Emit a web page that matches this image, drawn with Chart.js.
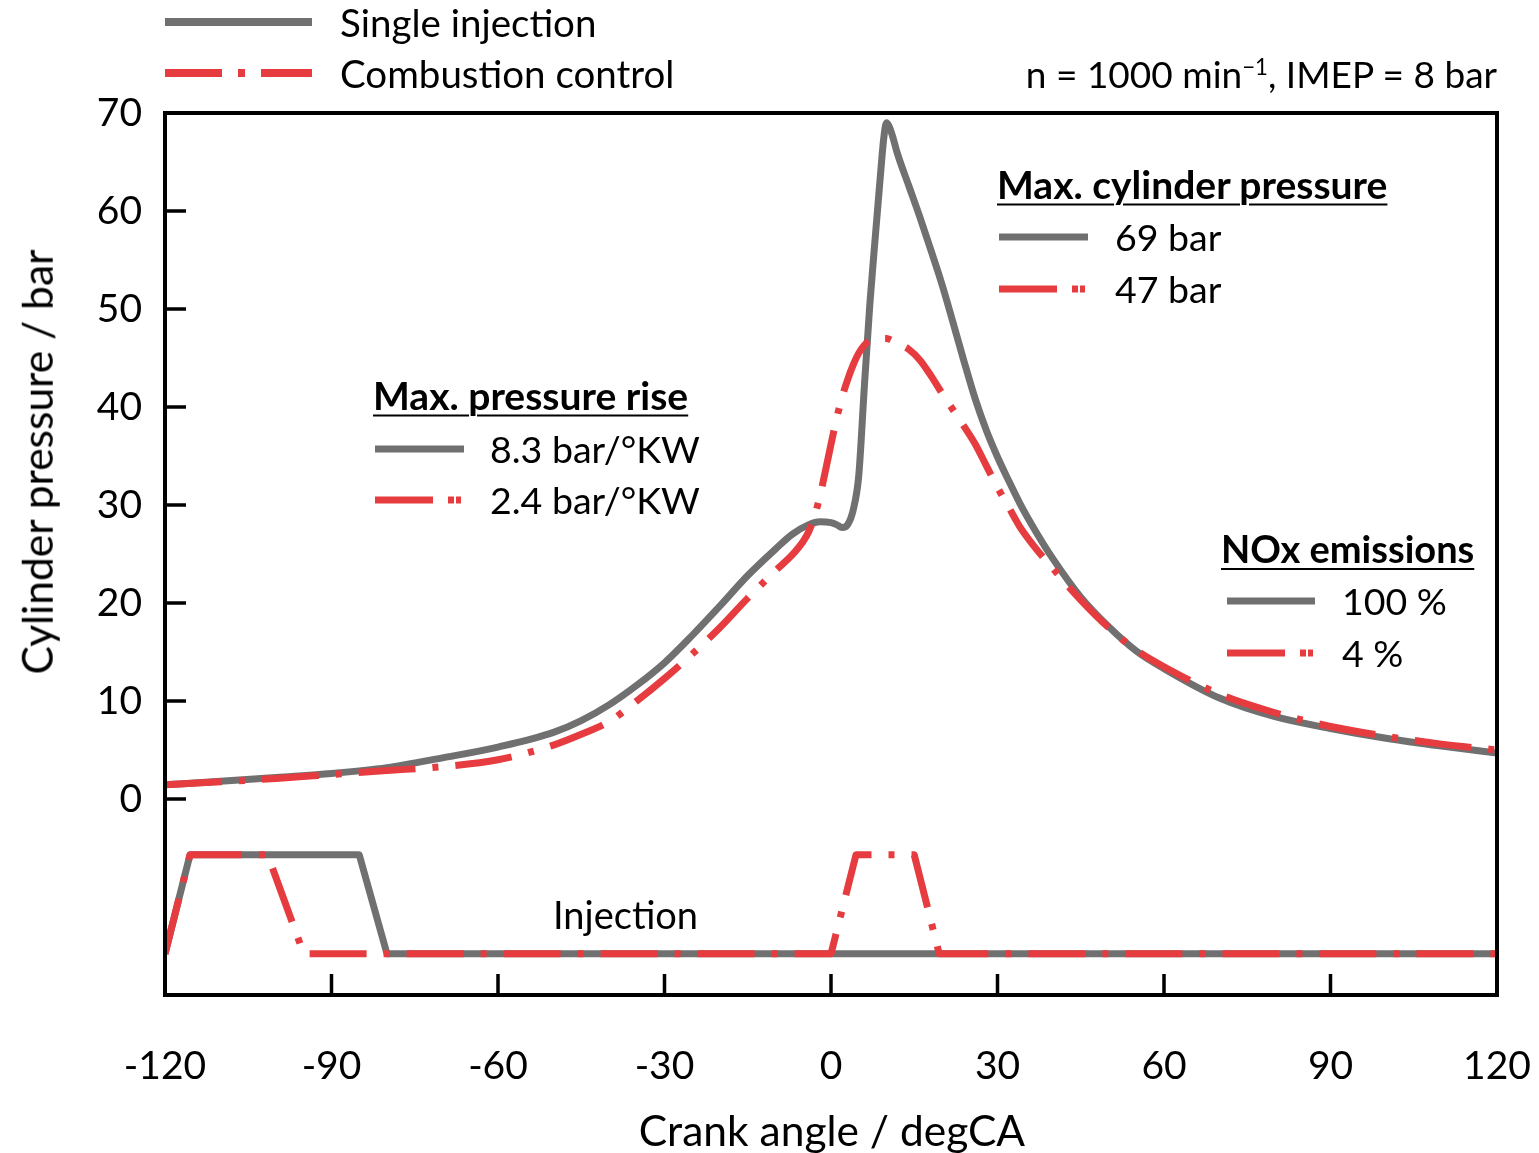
<!DOCTYPE html>
<html>
<head>
<meta charset="utf-8">
<script src="https://cdn.jsdelivr.net/npm/chart.js@4/dist/chart.umd.min.js"></script>
<style>
  html, body { margin: 0; padding: 0; background: #fff; }
  #wrap { position: relative; width: 1539px; height: 1153px; overflow: hidden; font-family: Lato, "Noto Sans", sans-serif; color: #000; }
  #chart { position: absolute; left: 0; top: 0; }
  .t { position: absolute; white-space: nowrap; line-height: 1; transform: translateY(-50%); font-size: 38px; }
  .v { font-size: 37.5px; }
  .h { font-weight: bold; text-decoration: underline; text-decoration-thickness: 2px; text-underline-offset: 5px; font-size: 39px; }
  .ax { font-size: 42.5px; }
  sup { font-size: 0.6em; vertical-align: 0; position: relative; top: -0.6em; }
</style>
</head>
<body>
<div id="wrap">
  <canvas id="chart" width="1539" height="1153"></canvas>

  <div class="t" style="left:340px; top:22px; font-size:38.5px;">Single injection</div>
  <div class="t" style="left:340px; top:73px; font-size:38.5px;">Combustion control</div>
  <div class="t" style="right:42px; top:73px; font-size:37px;">n = 1000 min<sup>−1</sup>, IMEP = 8 bar</div>

  <div class="t h" style="left:997px; top:184px;">Max. cylinder pressure</div>
  <div class="t v" style="left:1115px; top:237px;">69 bar</div>
  <div class="t v" style="left:1115px; top:289px;">47 bar</div>

  <div class="t h" style="left:373px; top:395px;">Max. pressure rise</div>
  <div class="t v" style="left:490px; top:449px;">8.3 bar/°KW</div>
  <div class="t v" style="left:490px; top:500px;">2.4 bar/°KW</div>

  <div class="t h" style="left:1221px; top:548px; font-size:38px;">NOx emissions</div>
  <div class="t v" style="left:1342px; top:601px;">100 %</div>
  <div class="t v" style="left:1342px; top:653px;">4 %</div>

  <div class="t" style="left:553px; top:914px;">Injection</div>

  <div class="t ax" style="left:37px; top:462px; transform: translate(-50%,-50%) rotate(-90deg);">Cylinder pressure / bar</div>
  <div class="t ax" style="left:832px; top:1130px; transform: translate(-50%,-50%);">Crank angle / degCA</div>
</div>

<script>
// Cylinder pressure, single injection (crank angle in degCA, pressure in bar)
const crankSingle = [-120,-110,-100,-90,-80,-70,-60,-50,-45,-40,-35,-30,-25,-20,-15,-10,-7,-4,-2,0,1,2,3,4,5,6,7,8,9,9.5,10,10.5,11,12,14,16,18,20,22,24,26,28,30,32,34,37,40,45,50,55,60,70,80,90,100,110,120];
const pressureSingle = [1.45,1.8,2.2,2.6,3.2,4.2,5.3,6.8,8.0,9.6,11.6,13.9,16.7,19.7,22.8,25.5,27.0,28.0,28.3,28.2,28.0,27.7,28.0,29.5,33,42,50.5,57.5,64.3,67.4,69,68.6,67.8,65.8,62.6,59.4,56,52.5,48.6,44.6,40.8,37.6,34.9,32.5,30.2,27.2,24.5,20.6,17.6,15.1,13.3,10.3,8.4,7.2,6.2,5.4,4.7];

// Cylinder pressure with combustion control
const crankControl = [-120,-110,-100,-90,-80,-70,-60,-50,-45,-40,-35,-30,-25,-20,-15,-10,-7,-5,-4,-3,-2,-1,0,1,2,3,4,5,6,7,8,9,10,11,12,14,16,18,20,22,24,26,28,30,32,34,37,40,45,50,55,60,70,80,90,100,110,120];
const pressureControl = [1.45,1.75,2.1,2.5,2.9,3.3,4.0,5.5,6.6,7.9,10.0,12.3,14.8,17.5,20.5,23.3,24.9,26.3,27.3,28.8,30.9,33.5,36.2,38.8,41,42.8,44.3,45.5,46.3,46.8,46.95,47,47,46.8,46.5,45.9,44.8,43.2,41.4,39.7,38,36.2,34,31.8,29.8,27.8,25.5,23.5,20.3,17.5,15.2,13.5,10.7,8.8,7.4,6.4,5.6,5.0];

// Injection signal traces (drawn on the pressure axis below zero)
const injCrankSingle = [-120,-115.5,-85,-80,120];
const injLevelSingle = [-15.8,-5.7,-5.7,-15.8,-15.8];
const injCrankControl = [-120,-115.5,-101.5,-95,0,4.5,15,19.5,120];
const injLevelControl = [-15.8,-5.7,-5.7,-15.8,-15.8,-5.7,-5.7,-15.8,-15.8];

// Axis ticks
const xTickValues = [-120,-90,-60,-30,0,30,60,90,120];
const yTickValues = [0,10,20,30,40,50,60,70];

const GREY = '#707070';
const RED = '#e63c3f';
const DASH = [57,17,6,17];
const FONT = 'Lato, "Noto Sans", sans-serif';

const pts = (xs, ys) => xs.map((x, i) => ({ x, y: ys[i] }));

// Frame, inward tick marks and legend keys
const framePlugin = {
  id: 'frame',
  afterDraw(chart) {
    const { ctx, chartArea: a, scales } = chart;
    ctx.save();
    ctx.strokeStyle = '#000';
    ctx.lineWidth = 4;
    ctx.lineCap = 'butt';
    ctx.strokeRect(a.left, a.top, a.right - a.left, a.bottom - a.top);
    ctx.lineWidth = 3.5;
    ctx.beginPath();
    yTickValues.forEach(v => {
      const y = scales.y.getPixelForValue(v);
      ctx.moveTo(a.left, y); ctx.lineTo(a.left + 21, y);
    });
    xTickValues.forEach(v => {
      const x = scales.x.getPixelForValue(v);
      ctx.moveTo(x, a.bottom); ctx.lineTo(x, a.bottom - 21);
    });
    ctx.stroke();

    const key = (x1, x2, y, color, dash, w) => {
      ctx.beginPath();
      ctx.strokeStyle = color;
      ctx.lineWidth = w;
      ctx.setLineDash(dash);
      ctx.moveTo(x1, y); ctx.lineTo(x2, y);
      ctx.stroke();
      ctx.setLineDash([]);
    };
    key(165, 312, 22, GREY, [], 8);
    key(165, 312, 73, RED, [57,16,7,16], 8);
    key(999, 1088, 237, GREY, [], 7);
    key(999, 1088, 289, RED, [58,15,6,2,5,20], 7);
    key(375, 464, 449, GREY, [], 7);
    key(375, 464, 500, RED, [58,15,6,2,5,20], 7);
    key(1227, 1315, 601, GREY, [], 7);
    key(1227, 1315, 653, RED, [58,15,6,2,5,20], 7);
    ctx.restore();
  }
};

new Chart(document.getElementById('chart'), {
  type: 'line',
  data: {
    datasets: [
      { label: 'Combustion control', data: pts(crankControl, pressureControl), borderColor: RED, borderWidth: 7, borderDash: DASH, cubicInterpolationMode: 'monotone', order: 0 },
      { label: 'Combustion control injection', data: pts(injCrankControl, injLevelControl), borderColor: RED, borderWidth: 7, borderDash: DASH, tension: 0, order: 0 },
      { label: 'Single injection', data: pts(crankSingle, pressureSingle), borderColor: GREY, borderWidth: 7, cubicInterpolationMode: 'monotone', order: 1 },
      { label: 'Single injection injection', data: pts(injCrankSingle, injLevelSingle), borderColor: GREY, borderWidth: 7, tension: 0, order: 1 }
    ]
  },
  options: {
    responsive: false,
    animation: false,
    layout: { padding: { top: 113, right: 42, left: 0, bottom: 0 } },
    elements: { point: { radius: 0 }, line: { borderJoinStyle: 'round', fill: false } },
    plugins: { legend: { display: false }, tooltip: { enabled: false } },
    scales: {
      x: {
        type: 'linear', min: -120, max: 120,
        grid: { display: false, drawTicks: false },
        border: { display: false },
        afterBuildTicks: s => { s.ticks = xTickValues.map(v => ({ value: v })); },
        afterFit: s => { s.height = 158; },
        // tall line box places the labels well below the axis without widening the side padding
        ticks: { color: '#000', font: { family: FONT, size: 39, lineHeight: 3.64 }, padding: 0, maxRotation: 0, autoSkip: false, callback: v => String(v) }
      },
      y: {
        type: 'linear', min: -20, max: 70,
        grid: { display: false, drawTicks: false },
        border: { display: false },
        afterBuildTicks: s => { s.ticks = yTickValues.map(v => ({ value: v })); },
        afterFit: s => { s.width = 165; },
        ticks: { color: '#000', font: { family: FONT, size: 39 }, padding: 23, callback: v => String(v) }
      }
    }
  },
  plugins: [framePlugin]
});
</script>
</body>
</html>
